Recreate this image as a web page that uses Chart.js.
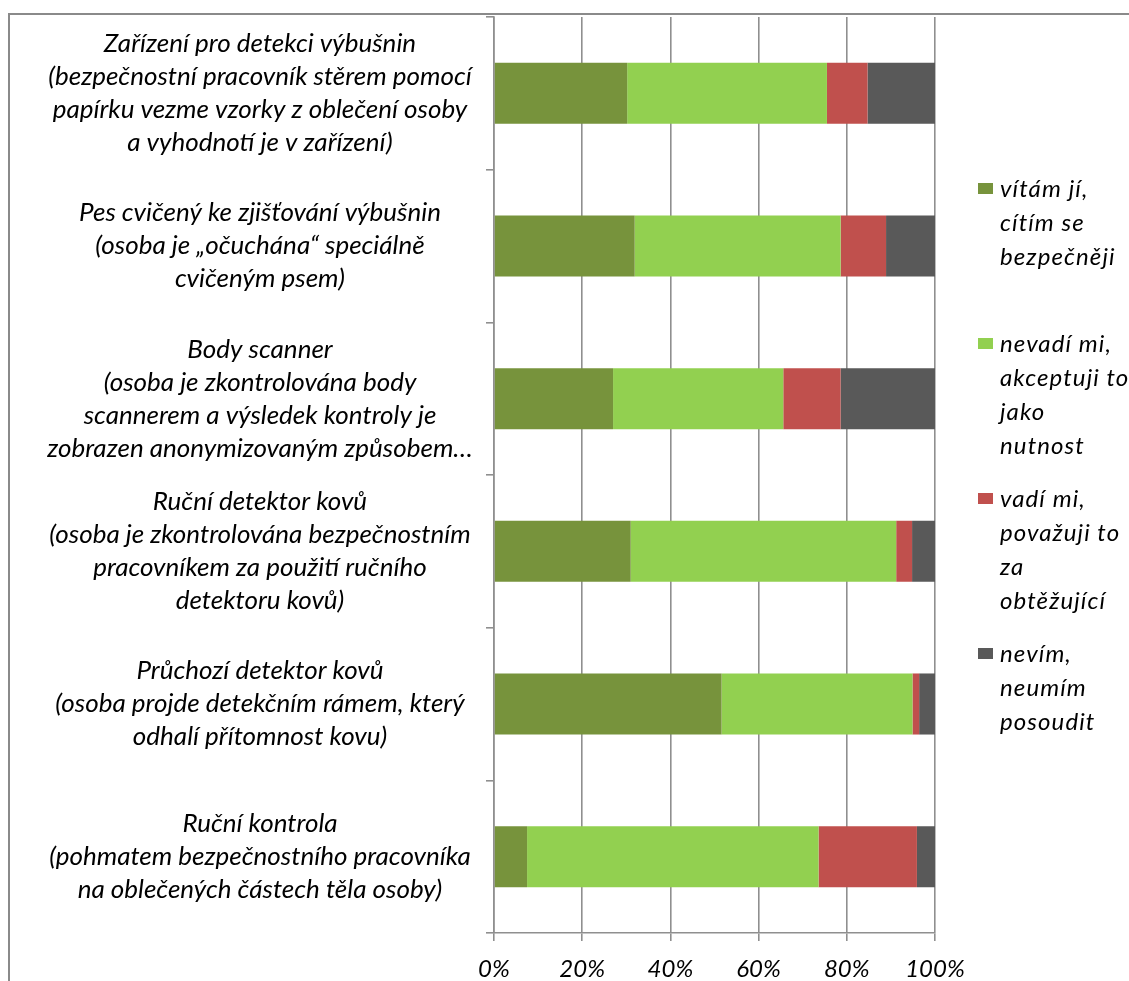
<!DOCTYPE html>
<html lang="cs">
<head>
<meta charset="utf-8">
<title>Postoj k bezpečnostním kontrolám</title>
<script src="https://cdn.jsdelivr.net/npm/chart.js@4.4.1/dist/chart.umd.min.js"></script>
<style>
  html, body { margin: 0; padding: 0; background: #fff; }
  #wrap { position: relative; width: 1129px; height: 981px; overflow: hidden; }
  #chart { position: absolute; left: 0; top: 0; }
  #legend { position: absolute; left: 975px; top: 0; width: 154px;
            font: italic 24px Lato, "Open Sans", sans-serif; color: #000; letter-spacing: 1.1px; }
  #legend .item { position: absolute; left: 0; width: 154px; line-height: 34px; }
  #legend .box { position: absolute; left: 3px; top: 12px; width: 15px; height: 11px; }
  #legend .text { position: absolute; left: 25px; top: 0; white-space: nowrap; }
</style>
</head>
<body>
<div id="wrap">
  <canvas id="chart" width="1129" height="981"></canvas>
  <div id="legend"></div>
</div>
<script>
// Categories (each label split into its printed lines)
const categories = [
  ["Zařízení pro detekci výbušnin", "(bezpečnostní pracovník stěrem pomocí", "papírku vezme vzorky z oblečení osoby", "a vyhodnotí je v zařízení)"],
  ["Pes cvičený ke zjišťování výbušnin", "(osoba je „očuchána“ speciálně", "cvičeným psem)"],
  ["Body scanner", "(osoba je zkontrolována body", "scannerem a výsledek kontroly je", "zobrazen anonymizovaným způsobem…"],
  ["Ruční detektor kovů", "(osoba je zkontrolována bezpečnostním", "pracovníkem za použití ručního", "detektoru kovů)"],
  ["Průchozí detektor kovů", "(osoba projde detekčním rámem, který", "odhalí přítomnost kovu)"],
  ["Ruční kontrola", "(pohmatem bezpečnostního pracovníka", "na oblečených částech těla osoby)"]
];

// Answer shares in percent, one value per category
const vitam    = [30.2, 31.9, 27.0, 31.0, 51.6,  7.5];
const nevadi   = [45.3, 46.7, 38.6, 60.2, 43.3, 66.1];
const vadi     = [ 9.2, 10.3, 13.0,  3.6,  1.5, 22.3];
const nevim    = [15.3, 11.1, 21.4,  5.2,  3.6,  4.1];

// Series names (legend lines)
const seriesNames = [
  ["vítám jí,", "cítím se", "bezpečněji"],
  ["nevadí mi,", "akceptuji to", "jako", "nutnost"],
  ["vadí mi,", "považuji to", "za", "obtěžující"],
  ["nevím,", "neumím", "posoudit"]
];
const seriesColors = ["#77933C", "#92D050", "#C0504D", "#595959"];

// Axis ticks
const xTicks = [0, 20, 40, 60, 80, 100];

const seriesValues = [vitam, nevadi, vadi, nevim];
const datasets = seriesValues.map((vals, i) => ({
  label: seriesNames[i].join(" "),
  data: vals,
  backgroundColor: seriesColors[i],
  borderWidth: 0,
  barPercentage: 1.0,
  categoryPercentage: 0.4
}));

const GRID = "#8f8f8f";
const FONT = "Lato, 'Open Sans', sans-serif";
const LABEL_SIZE = 26;
const AXIS_WIDTH = 494;     // space left of the plot for category labels
const LABEL_CENTER = 260;   // horizontal centre of the category label blocks
const TICK_LEN = 8;

// Widest category line decides where Chart.js centres the label blocks
const measure = document.createElement("canvas").getContext("2d");
measure.font = `italic ${LABEL_SIZE}px ${FONT}`;
const widest = Math.max(...categories.flat().map(s => measure.measureText(s).width));
const yPadding = AXIS_WIDTH - TICK_LEN - LABEL_CENTER - widest / 2;

// Outer frame of the chart (left and top edges)
const framePlugin = {
  id: "frame",
  beforeDraw(chart) {
    const ctx = chart.ctx;
    ctx.save();
    ctx.strokeStyle = "#8a8a8a";
    ctx.lineWidth = 2;
    ctx.beginPath();
    ctx.moveTo(9, 981);
    ctx.lineTo(9, 14);
    ctx.lineTo(1129, 14);
    ctx.stroke();
    ctx.restore();
  }
};

const chart = new Chart(document.getElementById("chart"), {
  type: "bar",
  data: { labels: categories, datasets },
  plugins: [framePlugin],
  options: {
    indexAxis: "y",
    responsive: false,
    animation: false,
    layout: { padding: { left: 0, right: 194, top: 17, bottom: 0 } },
    plugins: {
      legend: { display: false },
      tooltip: { enabled: false }
    },
    scales: {
      x: {
        stacked: true,
        min: 0,
        max: 100,
        afterBuildTicks(axis) { axis.ticks = xTicks.map(v => ({ value: v })); },
        afterFit(axis) {
          axis.height = 48;
          axis.paddingLeft = 0; axis.paddingRight = 0;
        },
        grid: { color: GRID, lineWidth: 1.6, tickLength: TICK_LEN, drawOnChartArea: true },
        border: { display: true, color: GRID, width: 1.6 },
        ticks: {
          callback: v => v + "%",
          color: "#000",
          padding: 14,
          maxRotation: 0,
          font: { family: FONT, size: 24, style: "italic" }
        }
      },
      y: {
        stacked: true,
        afterFit(axis) {
          axis.width = AXIS_WIDTH;
          axis.paddingTop = 0; axis.paddingBottom = 0;
        },
        grid: { color: GRID, lineWidth: 1.6, tickLength: TICK_LEN, drawOnChartArea: false, offset: true },
        border: { display: true, color: GRID, width: 1.6 },
        ticks: {
          crossAlign: "center",
          padding: yPadding,
          color: "#000",
          autoSkip: false,
          font: { family: FONT, size: LABEL_SIZE, style: "italic", lineHeight: 33 / LABEL_SIZE }
        }
      }
    }
  }
});

// Legend beside the plot, one block per series
const legend = document.getElementById("legend");
chart.data.datasets.forEach((ds, i) => {
  const item = document.createElement("div");
  item.className = "item";
  item.style.top = (171 + i * 155) + "px";
  const box = document.createElement("div");
  box.className = "box";
  box.style.background = ds.backgroundColor;
  const text = document.createElement("div");
  text.className = "text";
  text.innerHTML = seriesNames[i].join("<br>");
  item.appendChild(box);
  item.appendChild(text);
  legend.appendChild(item);
});
</script>
</body>
</html>
